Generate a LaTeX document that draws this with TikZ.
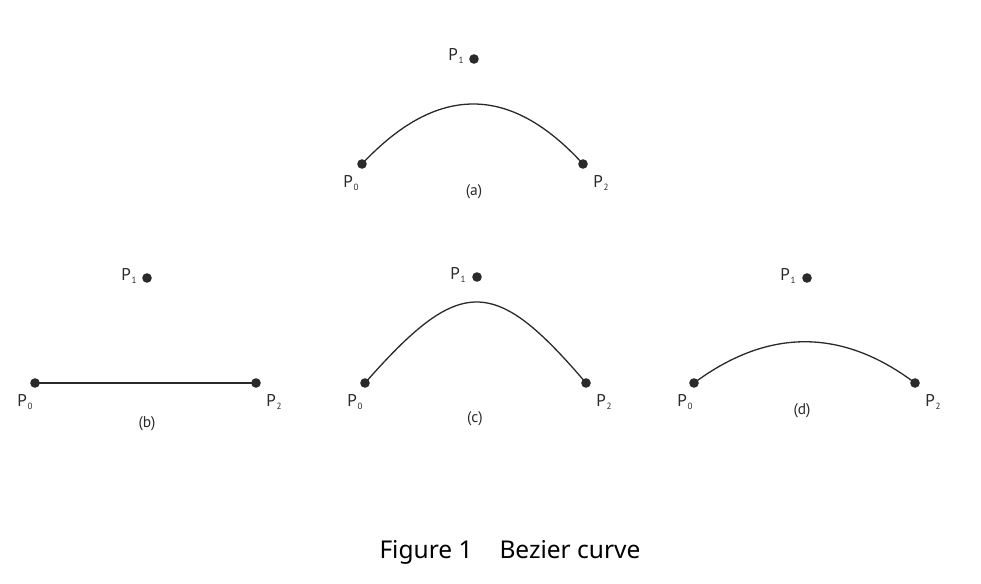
\documentclass[tikz,border=0pt]{standalone}
\usepackage{fontspec}
\setmainfont{PT Sans}
\newfontfamily\capfont{Noto Sans}
\definecolor{ink}{HTML}{2A2A2A}
\newcommand{\lbl}[1]{P\kern0.8pt{\fontsize{9}{9}\selectfont\raisebox{-3.5pt}{#1}}}
\begin{document}
\begin{tikzpicture}[x=1pt,y=-1pt,
  dotpt/.style={fill=ink},
  curveline/.style={draw=ink,line width=1.3pt},
  plabel/.style={font=\fontsize{17}{17}\selectfont,text=ink,inner sep=0pt},
  sublabel/.style={font=\fontsize{15.5}{15.5}\selectfont,text=ink,inner sep=0pt}]
\useasboundingbox[fill=white] (0,0) rectangle (981,583);
% (a)
\coordinate (a0) at (362,164);
\coordinate (a1) at (474,59);
\coordinate (a2) at (583,164);
\draw[curveline] (a0) .. controls (437,84) and (510,84) .. (a2);
\foreach \p in {a0,a1,a2} \fill[dotpt] (\p) circle (4.8);
\node[plabel] (la0) at (351,183) {\lbl{0}};
\node[plabel] (la1) at (456,56) {\lbl{1}};
\node[plabel] (la2) at (601,183) {\lbl{2}};
\node[sublabel] (ta) at (474,192) {(a)};
% (b)
\coordinate (b0) at (35,383);
\coordinate (b1) at (147,278);
\coordinate (b2) at (256,383);
\draw[curveline] (b0) -- (b2);
\foreach \p in {b0,b1,b2} \fill[dotpt] (\p) circle (4.8);
\node[plabel] (lb0) at (25,402) {\lbl{0}};
\node[plabel] (lb1) at (129,276) {\lbl{1}};
\node[plabel] (lb2) at (274,402) {\lbl{2}};
\node[sublabel] (tb) at (147,424) {(b)};
% (c)
\coordinate (c0) at (365,383);
\coordinate (c1) at (477,277);
\coordinate (c2) at (586,383);
\draw[curveline] (c0) .. controls (460,275) and (494,275) .. (c2);
\foreach \p in {c0,c1,c2} \fill[dotpt] (\p) circle (4.8);
\node[plabel] (lc0) at (355,402) {\lbl{0}};
\node[plabel] (lc1) at (458,275) {\lbl{1}};
\node[plabel] (lc2) at (604,402) {\lbl{2}};
\node[sublabel] (tc) at (475,419) {(c)};
% (d)
\coordinate (d0) at (694,383);
\coordinate (d1) at (807,278);
\coordinate (d2) at (915,383);
\draw[curveline] (d0) .. controls (768,328) and (842,328) .. (d2);
\foreach \p in {d0,d1,d2} \fill[dotpt] (\p) circle (4.8);
\node[plabel] (ld0) at (685,402) {\lbl{0}};
\node[plabel] (ld1) at (788,276) {\lbl{1}};
\node[plabel] (ld2) at (933,402) {\lbl{2}};
\node[sublabel] (td) at (802,411) {(d)};
% caption
\node[font=\capfont\fontsize{24.5}{24.5}\selectfont,text=black,inner sep=0pt] (cap) at (510,552) {Figure 1\hspace{1.1em}Bezier curve};
\end{tikzpicture}
\end{document}
